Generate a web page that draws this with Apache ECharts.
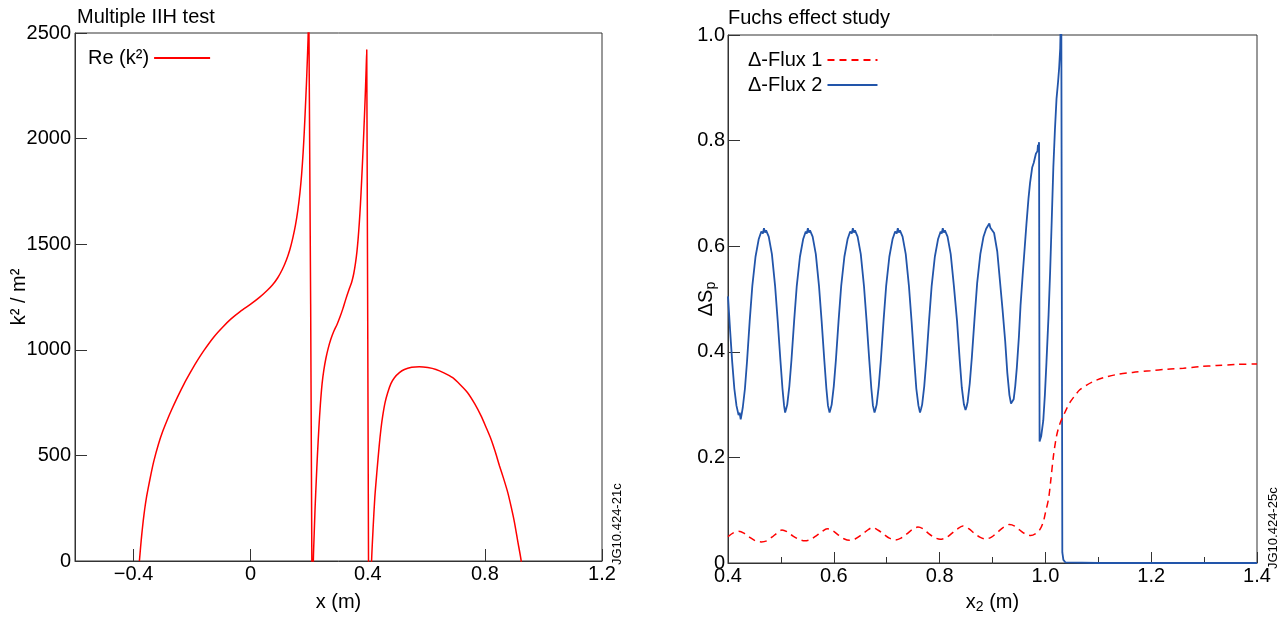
<!DOCTYPE html>
<html>
<head>
<meta charset="utf-8">
<script src="https://cdn.jsdelivr.net/npm/echarts@6/dist/echarts.min.js"></script>
<style>
html,body{margin:0;padding:0;background:#fff;}
#c{width:1287px;height:619px;}
</style>
</head>
<body>
<div id="c"></div>
<script>
// ---------- Left panel: Multiple IIH test ----------
const kX = [
  -0.380,-0.376,-0.372,-0.367,-0.362,-0.356,-0.350,-0.340,-0.331,-0.315,-0.300,-0.285,-0.270,-0.250,-0.227,-0.205,-0.187,-0.160,-0.125,-0.095,-0.068,-0.035,0.000,0.030,0.057,0.075,0.092,0.108,0.122,0.134,0.144,0.153,0.161,0.168,0.174,0.179,0.183,0.187,0.1905,0.1935,0.196,0.1985,
  0.209,0.2115,
  0.214,0.217,0.220,0.224,0.228,0.233,0.238,0.244,0.250,0.257,0.265,0.274,0.284,0.295,0.305,0.315,0.325,0.336,0.345,0.352,0.358,0.363,0.367,0.371,0.375,0.379,0.383,0.387,0.391,0.394,0.3965,
  0.4025,0.408,
  0.413,0.418,0.424,0.431,0.439,0.445,0.451,0.459,0.468,0.479,0.491,0.508,0.525,0.550,0.576,0.605,0.633,0.660,0.690,0.715,0.741,0.765,0.787,0.805,0.821,0.836,0.850,0.864,0.878,0.890,0.901,0.912,0.924,0.930];
const kY = [
  0,65,125,190,245,300,345,415,472,553,615,668,716,776,840,895,938,996,1062,1108,1145,1182,1216,1248,1282,1308,1340,1380,1425,1475,1530,1590,1660,1740,1830,1930,2030,2150,2260,2370,2470,2640,
  0,-300,
  0,130,250,380,500,630,740,840,905,960,1008,1051,1088,1120,1155,1195,1240,1285,1320,1360,1410,1465,1525,1600,1690,1800,1920,2050,2190,2310,2421,
  0,-300,
  0,150,300,420,545,625,687,750,797,840,868,892,907,917,920,916,907,891,868,836,797,745,687,630,577,515,450,390,325,255,183,95,0,-100];
const kXTicks = [-0.4, 0, 0.4, 0.8, 1.2];
const kXTickLabels = ['\u22120.4', '0', '0.4', '0.8', '1.2'];
const kYTicks = [0, 500, 1000, 1500, 2000, 2500];
const kYTickLabels = ['0', '500', '1000', '1500', '2000', '2500'];

// ---------- Right panel: Fuchs effect study ----------
const flux1X = [0.400,0.410,0.420,0.431,0.442,0.452,0.463,0.473,0.483,0.493,0.502,0.512,0.523,0.534,0.545,0.555,0.566,0.577,0.5875,0.598,0.609,0.619,0.630,0.641,0.652,0.662,0.673,0.684,0.695,0.705,0.716,0.727,0.738,0.748,0.759,0.770,0.780,0.791,0.801,0.812,0.823,0.833,0.844,0.855,0.866,0.876,0.887,0.898,0.909,0.920,0.932,0.942,0.952,0.962,0.972,0.982,0.990,0.996,1.000,1.006,1.010,1.015,1.020,1.024,1.029,1.034,1.040,1.047,1.055,1.065,1.078,1.091,1.110,1.135,1.165,1.198,1.230,1.261,1.292,1.324,1.360,1.400];
const flux1Y = [0.050,0.057,0.060,0.056,0.048,0.042,0.040,0.042,0.049,0.057,0.0625,0.059,0.051,0.045,0.042,0.044,0.051,0.059,0.065,0.061,0.053,0.046,0.043,0.046,0.053,0.061,0.067,0.062,0.054,0.047,0.0436,0.047,0.055,0.063,0.068,0.064,0.055,0.048,0.045,0.048,0.056,0.064,0.070,0.065,0.056,0.049,0.0455,0.049,0.058,0.067,0.073,0.070,0.062,0.055,0.052,0.056,0.064,0.078,0.095,0.122,0.155,0.201,0.235,0.253,0.268,0.279,0.292,0.305,0.316,0.328,0.337,0.344,0.351,0.357,0.361,0.364,0.367,0.369,0.372,0.374,0.376,0.377];

const flux2X = [
  0.400,0.404,0.408,0.412,0.416,0.420,0.422,0.424,0.426,
  0.428,0.432,0.436,0.441,0.446,0.452,0.458,0.463,0.466,0.468,
  0.470,0.472,0.477,0.483,0.489,0.494,0.499,0.503,0.506,0.508,0.510,
  0.512,0.516,0.520,0.525,0.530,0.536,0.542,0.547,0.549,0.551,
  0.553,0.555,0.560,0.566,0.572,0.577,0.582,0.586,0.589,0.592,0.594,
  0.596,0.600,0.604,0.609,0.614,0.620,0.626,0.631,0.634,0.636,
  0.638,0.640,0.645,0.651,0.657,0.662,0.667,0.671,0.674,0.677,0.679,
  0.681,0.685,0.689,0.694,0.699,0.705,0.711,0.716,0.719,0.721,
  0.723,0.725,0.730,0.736,0.742,0.747,0.752,0.756,0.760,0.763,0.765,
  0.767,0.771,0.775,0.780,0.785,0.791,0.797,0.802,0.804,0.806,
  0.808,0.810,0.815,0.821,0.827,0.833,0.838,0.842,0.846,0.849,0.851,
  0.853,0.857,0.861,0.866,0.871,0.877,0.883,0.888,0.891,0.894,
  0.896,0.898,0.903,0.909,0.914,0.919,0.924,0.928,0.932,0.935,0.938,0.940,
  0.943,0.946,0.950,0.953,0.957,0.961,0.964,0.968,0.971,0.975,0.978,0.982,0.985,0.986,0.987,0.988,
  0.989,0.992,0.996,0.999,1.002,1.006,1.009,1.012,1.015,1.018,1.021,1.024,1.026,1.028,1.030,
  1.032,1.034,1.038,1.040,1.100,1.200,1.300,1.400];
const flux2Y = [
  0.505,0.440,0.380,0.330,0.298,0.280,0.285,0.272,0.283,
  0.295,0.330,0.382,0.458,0.525,0.580,0.613,0.628,0.624,0.634,
  0.626,0.630,0.618,0.585,0.525,0.458,0.385,0.330,0.298,0.285,0.292,
  0.300,0.335,0.385,0.458,0.525,0.580,0.613,0.628,0.624,0.634,
  0.626,0.630,0.618,0.585,0.525,0.458,0.385,0.330,0.298,0.285,0.292,
  0.300,0.335,0.385,0.458,0.525,0.580,0.613,0.628,0.624,0.634,
  0.626,0.630,0.618,0.585,0.525,0.458,0.385,0.330,0.298,0.285,0.292,
  0.300,0.335,0.385,0.458,0.525,0.580,0.613,0.628,0.624,0.634,
  0.626,0.630,0.618,0.585,0.525,0.458,0.385,0.330,0.298,0.285,0.292,
  0.300,0.335,0.385,0.458,0.525,0.580,0.613,0.628,0.624,0.634,
  0.626,0.630,0.618,0.585,0.525,0.458,0.385,0.332,0.300,0.290,0.296,
  0.305,0.340,0.390,0.462,0.530,0.585,0.618,0.633,0.630,0.643,
  0.635,0.638,0.625,0.590,0.535,0.480,0.420,0.360,0.318,0.302,0.299,0.310,
  0.335,0.370,0.430,0.488,0.545,0.599,0.640,0.690,0.720,0.749,0.758,0.775,0.780,0.792,0.785,0.797,
  0.230,0.240,0.270,0.318,0.380,0.470,0.553,0.650,0.749,0.820,0.879,0.912,0.938,0.975,1.080,
  0.020,0.006,0.001,0,0,0,0,0];
const x2Ticks = [0.4, 0.6, 0.8, 1.0, 1.2, 1.4];
const x2TickLabels = ['0.4', '0.6', '0.8', '1.0', '1.2', '1.4'];
const sTicks = [0, 0.2, 0.4, 0.6, 0.8, 1.0];
const sTickLabels = ['0', '0.2', '0.4', '0.6', '0.8', '1.0'];

const FONT = 'Liberation Sans, Arial, Helvetica, sans-serif';
const AX = '#333';
const RED = '#ff0000';
const BLUE = '#2255aa';

function pairs(xs, ys) { return xs.map((x, i) => [x, ys[i]]); }
function lookup(ticks, labels) {
  return function (v) {
    for (let i = 0; i < ticks.length; i++) if (Math.abs(ticks[i] - v) < 1e-6) return labels[i];
    return '';
  };
}
const labelStyle = { fontSize: 20, color: '#000', fontFamily: FONT };

const chart = echarts.init(document.getElementById('c'), null, { renderer: 'canvas' });
chart.setOption({
  animation: false,
  backgroundColor: '#fff',
  title: [
    { text: 'Multiple IIH test', left: 77, top: 7, padding: 0,
      textStyle: { fontSize: 20, fontWeight: 'normal', color: '#000', fontFamily: FONT } },
    { text: 'Fuchs effect study', left: 728, top: 8, padding: 0,
      textStyle: { fontSize: 20, fontWeight: 'normal', color: '#000', fontFamily: FONT } }
  ],
  legend: [
    { data: ['Re (k\u00b2)'], left: 88, top: 48, padding: 0, orient: 'vertical', align: 'right',
      itemWidth: 56, itemHeight: 14, itemGap: 5, itemStyle: { opacity: 0 },
      textStyle: { fontSize: 20, color: '#000', fontFamily: FONT, lineHeight: 20 } },
    { data: ['\u0394-Flux 1', '\u0394-Flux 2'], left: 748, top: 50, padding: 0, orient: 'vertical', align: 'right',
      itemWidth: 50, itemHeight: 14, itemGap: 5, itemStyle: { opacity: 0 },
      textStyle: { fontSize: 20, color: '#000', fontFamily: FONT, lineHeight: 20 } }
  ],
  grid: [
    { left: 75, top: 33, width: 527, height: 529, show: true, borderColor: AX, borderWidth: 1, containLabel: false },
    { left: 728, top: 35, width: 529, height: 529, show: true, borderColor: AX, borderWidth: 1, containLabel: false }
  ],
  xAxis: [
    { gridIndex: 0, type: 'value', min: -0.6, max: 1.2, interval: 0.2,
      axisLine: { show: true, onZero: false, lineStyle: { color: AX, width: 1 } },
      axisTick: { show: true, inside: true, length: 12, customValues: kXTicks, lineStyle: { color: AX } },
      axisLabel: { customValues: kXTicks, formatter: lookup(kXTicks, kXTickLabels), margin: 3, ...labelStyle },
      splitLine: { show: false },
      name: 'x (m)', nameLocation: 'middle', nameGap: 29, nameMoveOverlap: false,
      nameTextStyle: { fontSize: 20, color: '#000', fontFamily: FONT, lineHeight: 24 } },
    { gridIndex: 1, type: 'value', min: 0.4, max: 1.4, interval: 0.2,
      axisLine: { show: true, onZero: false, lineStyle: { color: AX, width: 1 } },
      axisTick: { show: true, inside: true, length: 11, lineStyle: { color: AX } },
      minorTick: { show: true, splitNumber: 2, length: 6, lineStyle: { color: AX } },
      axisLabel: { formatter: lookup(x2Ticks, x2TickLabels), margin: 3, showMinLabel: true, showMaxLabel: true, ...labelStyle },
      splitLine: { show: false }, minorSplitLine: { show: false },
      name: '{a|x}{s|2}{a| (m)}', nameLocation: 'middle', nameGap: 27, nameMoveOverlap: false,
      nameTextStyle: { rich: {
        a: { fontSize: 20, color: '#000', fontFamily: FONT, lineHeight: 24 },
        s: { fontSize: 14, color: '#000', fontFamily: FONT, lineHeight: 14, verticalAlign: 'bottom' } } } }
  ],
  yAxis: [
    { gridIndex: 0, type: 'value', min: 0, max: 2500, interval: 500,
      axisLine: { show: true, onZero: false, lineStyle: { color: AX, width: 1 } },
      axisTick: { show: true, inside: true, length: 12, lineStyle: { color: AX } },
      axisLabel: { formatter: lookup(kYTicks, kYTickLabels), margin: 4, showMinLabel: true, showMaxLabel: true, ...labelStyle },
      splitLine: { show: false },
      name: 'k\u00b2 / m\u00b2', nameLocation: 'middle', nameGap: 44, nameRotate: 90, nameMoveOverlap: false,
      nameTextStyle: { fontSize: 20, color: '#000', fontFamily: FONT, lineHeight: 24 } },
    { gridIndex: 1, type: 'value', min: 0, max: 1, interval: 0.2,
      axisLine: { show: true, onZero: false, lineStyle: { color: AX, width: 1 } },
      axisTick: { show: true, inside: true, length: 12, lineStyle: { color: AX } },
      axisLabel: { formatter: lookup(sTicks, sTickLabels), margin: 3, showMinLabel: true, showMaxLabel: true, ...labelStyle },
      splitLine: { show: false },
      name: '{a|\u0394S}{s|p}', nameLocation: 'middle', nameGap: 10, nameRotate: 90, nameMoveOverlap: false,
      nameTextStyle: { rich: {
        a: { fontSize: 20, color: '#000', fontFamily: FONT, lineHeight: 24 },
        s: { fontSize: 14, color: '#000', fontFamily: FONT, lineHeight: 14, verticalAlign: 'bottom' } } } }
  ],
  series: [
    { type: 'line', name: 'Re (k\u00b2)', xAxisIndex: 0, yAxisIndex: 0, data: pairs(kX, kY),
      symbol: 'none', showSymbol: false, clip: true, smooth: 0.25,
      lineStyle: { color: RED, width: 1.5 }, itemStyle: { color: RED } },
    { type: 'line', name: '\u0394-Flux 2', xAxisIndex: 1, yAxisIndex: 1, data: pairs(flux2X, flux2Y),
      symbol: 'none', showSymbol: false, clip: true,
      lineStyle: { color: BLUE, width: 1.8 }, itemStyle: { color: BLUE } },
    { type: 'line', name: '\u0394-Flux 1', xAxisIndex: 1, yAxisIndex: 1, data: pairs(flux1X, flux1Y),
      symbol: 'none', showSymbol: false, clip: true, smooth: 0.3,
      lineStyle: { color: RED, width: 1.5, type: [7, 5] }, itemStyle: { color: RED } }
  ],
  graphic: [
    { type: 'text', x: 617, y: 565, rotation: Math.PI / 2,
      style: { text: 'JG10.424-21c', fontSize: 13, fontFamily: FONT, fill: '#000', align: 'left', verticalAlign: 'middle' } },
    { type: 'text', x: 1273, y: 569, rotation: Math.PI / 2,
      style: { text: 'JG10.424-25c', fontSize: 13, fontFamily: FONT, fill: '#000', align: 'left', verticalAlign: 'middle' } }
  ]
});
</script>
</body>
</html>
